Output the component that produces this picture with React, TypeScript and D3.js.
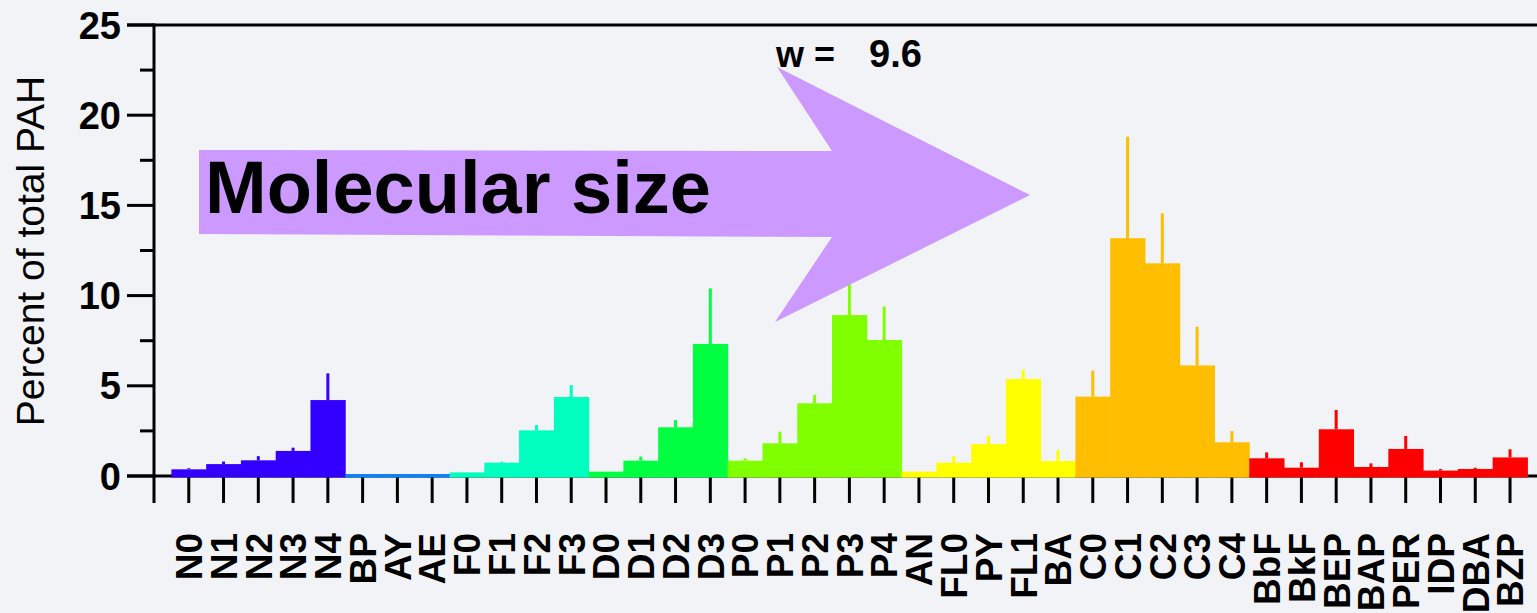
import React from "react";
import * as d3 from "d3";

const categories = ["N0","N1","N2","N3","N4","BP","AY","AE","F0","F1","F2","F3","D0","D1","D2","D3","P0","P1","P2","P3","P4","AN","FL0","PY","FL1","BA","C0","C1","C2","C3","C4","BbF","BkF","BEP","BAP","PER","IDP","DBA","BZP"];
const values = [0.37,0.66,0.87,1.39,4.21,0.1,0.1,0.1,0.2,0.74,2.53,4.38,0.24,0.85,2.7,7.32,0.85,1.81,4.03,8.92,7.54,0.24,0.74,1.77,5.38,0.83,4.4,13.18,11.79,6.13,1.87,0.98,0.46,2.59,0.5,1.5,0.3,0.39,1.03];
const errors = [0.06,0.14,0.23,0.18,1.48,0,0,0,0,0.06,0.3,0.66,0,0.22,0.4,3.08,0.13,0.65,0.46,2.2,1.85,0,0.37,0.46,0.5,0.61,1.44,5.63,2.77,2.15,0.62,0.33,0.3,1.07,0.2,0.72,0.09,0.07,0.45];
const groups = ["N","N","N","N","N","B","B","B","F","F","F","F","D","D","D","D","P","P","P","P","P","Y","Y","Y","Y","Y","C","C","C","C","C","R","R","R","R","R","R","R","R"];
const groupKeys = ["N","B","F","D","P","Y","C","R"];
const groupColors = ["#3300ff","#0a80ff","#00ffbf","#00ff40","#80ff00","#ffff00","#ffbf00","#ff0000"];
const yTicks = [0,5,10,15,20,25];
const yMinorTicks = [2.5,7.5,12.5,17.5,22.5];

const W = 1537, H = 613;
const FONT = "'Liberation Sans', Arial, Helvetica, sans-serif";

export default function App() {
  const step = 34.77;
  const x = d3.scaleLinear().domain([-1, 39]).range([154, 154 + 40 * step]);
  const y = d3.scaleLinear().domain([0, 25]).range([476, 25]);
  const color = d3.scaleOrdinal<string, string>().domain(groupKeys).range(groupColors);
  const axisLeft = x(-1);

  const arrow = [[199,150],[832,151],[777,67],[1030,195],[775,322],[832,237],[199,234]];

  return (
    <svg width={W} height={H} style={{position:"absolute", left:0, top:0}} xmlns="http://www.w3.org/2000/svg">
      <rect x={0} y={0} width={W} height={H} fill="#f2f3f7" />
      <line x1={127} x2={W} y1={y(25)} y2={y(25)} stroke="#000" strokeWidth={3} />
      <line x1={127} x2={W} y1={y(0)} y2={y(0)} stroke="#000" strokeWidth={3} />
      <line x1={axisLeft} x2={axisLeft} y1={y(25) - 1.5} y2={503} stroke="#000" strokeWidth={3} />
      {yTicks.map(t => (
        <g key={"yt"+t}>
          <line x1={127} x2={axisLeft} y1={y(t)} y2={y(t)} stroke="#000" strokeWidth={3} />
          <text x={121} y={y(t)} dy="0.36em" textAnchor="end" fontFamily={FONT} fontWeight="bold" fontSize={38} fill="#000">{t}</text>
        </g>
      ))}
      {yMinorTicks.map(t => (
        <line key={"ym"+t} x1={140} x2={axisLeft} y1={y(t)} y2={y(t)} stroke="#000" strokeWidth={3} />
      ))}
      {categories.map((c, i) => (
        <line key={"xt"+c} x1={x(i)} x2={x(i)} y1={y(0)} y2={503} stroke="#000" strokeWidth={3} />
      ))}
      {categories.map((c, i) => (
        <rect key={"b"+c} x={x(i) - step/2} y={y(values[i])} width={step + 0.5} height={y(0) - y(values[i]) + 1.5} fill={color(groups[i])} />
      ))}
      {categories.map((c, i) => errors[i] > 0 ? (
        <line key={"e"+c} x1={x(i)} x2={x(i)} y1={y(values[i])} y2={y(values[i] + errors[i])} stroke={color(groups[i])} strokeWidth={3} />
      ) : null)}
      {categories.map((c, i) => (
        <text key={"xl"+c} transform={`translate(${x(i)},533) rotate(-90)`} dy="0.36em" textAnchor="end" fontFamily={FONT} fontWeight="bold" fontSize={37} fill="#000">{c}</text>
      ))}
      <text transform="translate(44,251) rotate(-90)" textAnchor="middle" fontFamily={FONT} fontSize={39} fill="#000">Percent of total PAH</text>
      <polygon points={arrow.map(p => p.join(",")).join(" ")} fill="#cc99ff" />
      <text x={205} y={213} fontFamily={FONT} fontWeight="bold" fontSize={74} fill="#000">Molecular size</text>
      <text x={776} y={67} fontFamily={FONT} fontWeight="bold" fontSize={36} fill="#000">w =</text>
      <text x={869} y={67} fontFamily={FONT} fontWeight="bold" fontSize={38} fill="#000">9.6</text>
    </svg>
  );
}
